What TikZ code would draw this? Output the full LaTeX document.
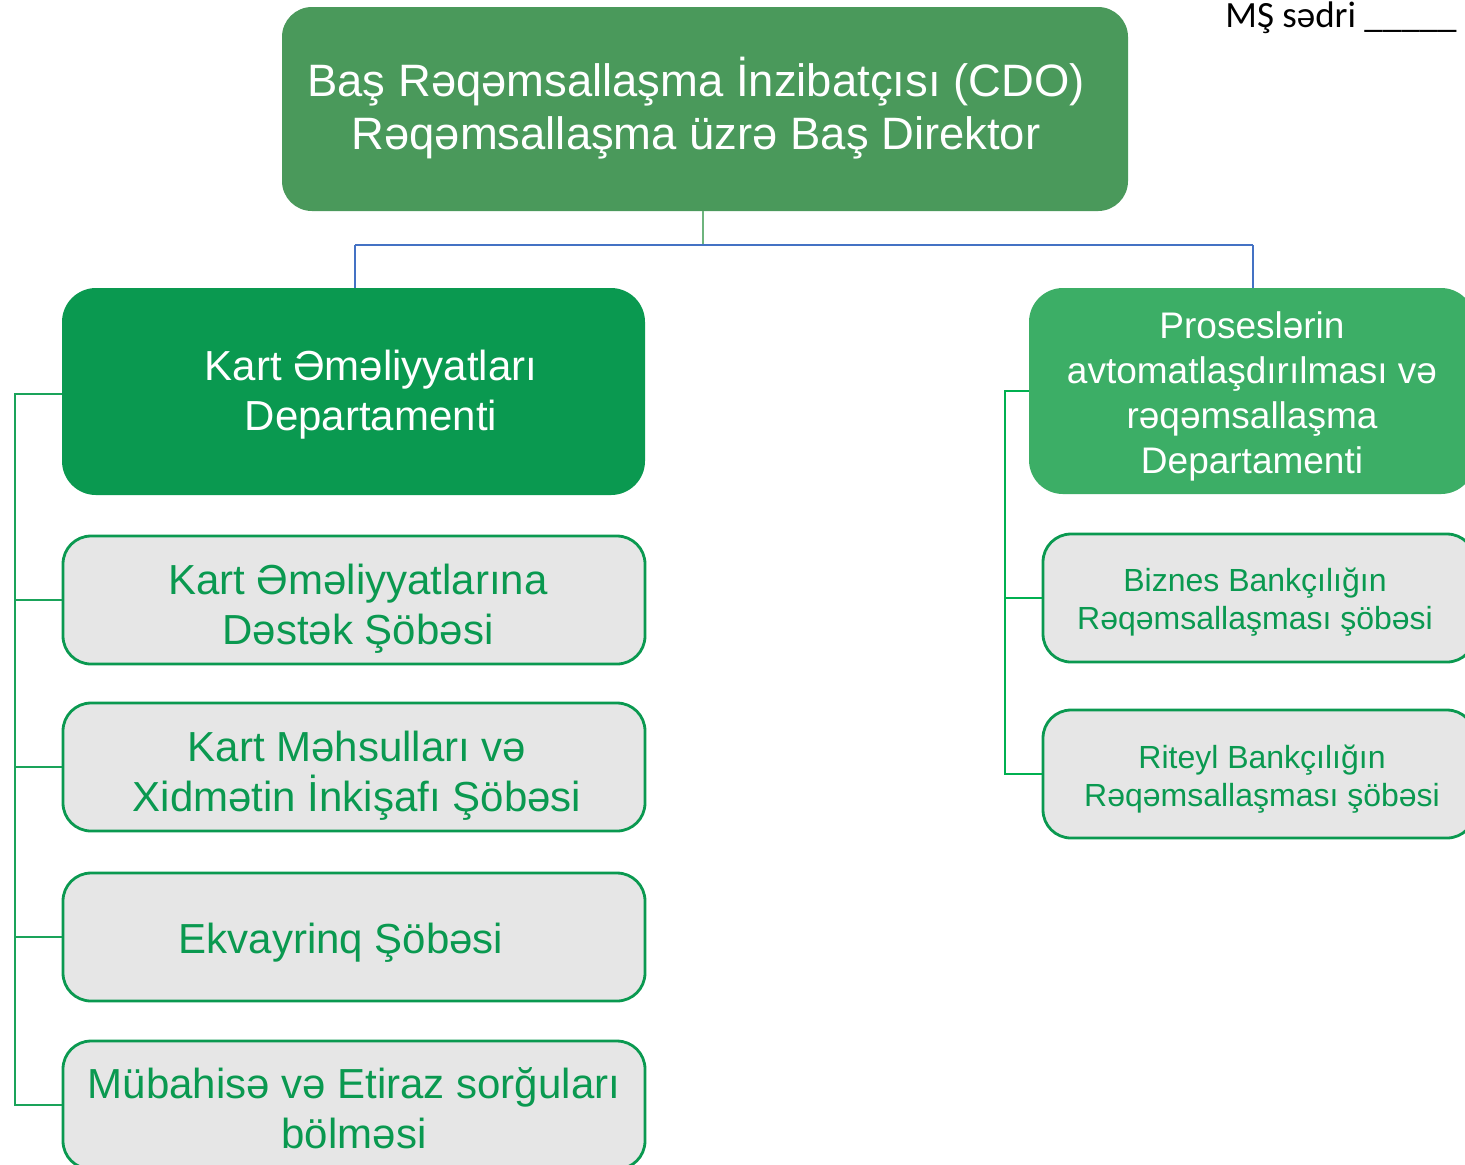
\documentclass[tikz,border=0pt]{standalone}
\usepackage{fontspec}
\setmainfont{Liberation Sans}
\newfontfamily\calibrifont{Carlito}
\definecolor{topgreen}{RGB}{74,153,91}
\definecolor{deptgreen}{RGB}{10,153,80}
\definecolor{rdeptgreen}{RGB}{60,174,102}
\definecolor{subfill}{RGB}{230,230,230}
\definecolor{subtext}{RGB}{10,153,80}
\definecolor{busblue}{RGB}{68,114,196}
\definecolor{lconncol}{RGB}{26,163,90}
\definecolor{rconncol}{RGB}{0,176,80}
\definecolor{stemgreen}{RGB}{110,180,125}
\tikzset{
  boxbase/.style={rectangle, inner sep=0pt},
  topbox/.style={boxbase, fill=topgreen, rounded corners=15pt, minimum width=423pt, minimum height=102pt},
  ldeptbox/.style={boxbase, fill=deptgreen, rounded corners=17pt, minimum width=291.5pt, minimum height=103.5pt},
  rdeptbox/.style={boxbase, fill=rdeptgreen, rounded corners=17pt, minimum width=223pt, minimum height=103pt},
  lsubbox/.style={boxbase, fill=subfill, draw=deptgreen, line width=1.4pt, rounded corners=14pt, minimum width=291pt, minimum height=64pt},
  rsubbox/.style={boxbase, fill=subfill, draw=deptgreen, line width=1.4pt, rounded corners=14pt, minimum width=216pt, minimum height=64pt},
  toptext/.style={align=center, text=white, font=\fontsize{22.7}{26.5}\selectfont},
  ldepttext/.style={align=center, text=white, font=\fontsize{21}{25}\selectfont},
  rdepttext/.style={align=center, text=white, font=\fontsize{18.5}{22.5}\selectfont},
  lsubtext/.style={align=center, text=subtext, font=\fontsize{21}{25}\selectfont},
  rsubtext/.style={align=center, text=subtext, font=\fontsize{16}{19}\selectfont},
  bus/.style={draw=busblue, line width=1.1pt},
  stem/.style={draw=stemgreen, line width=0.6pt},
  lconn/.style={draw=lconncol, line width=0.8pt},
  rconn/.style={draw=rconncol, line width=1pt},
}
\begin{document}
\begin{tikzpicture}[x=0.5pt, y=-0.5pt]
\useasboundingbox (0,0) rectangle (1465,1164);
\fill[white] (0,0) rectangle (1465,1164);

% boxes
\node[topbox] (top) at (705,109) {};
\node[toptext] (toplbl) at (696,108) {Baş Rəqəmsallaşma İnzibatçısı (CDO)\\Rəqəmsallaşma üzrə Baş Direktor};

\node[ldeptbox] (ldept) at (353.5,391.5) {};
\node[ldepttext] (ldeptlbl) at (371,395) {Kart Əməliyyatları\\Departamenti};

\node[rdeptbox] (rdept) at (1252,391) {};
\node[rdepttext] (rdeptlbl) at (1252,396) {Proseslərin\\avtomatlaşdırılması və\\rəqəmsallaşma\\Departamenti};

\node[lsubbox] (ls1) at (354,600) {};
\node[lsubtext] (ls1lbl) at (358,609) {Kart Əməliyyatlarına\\Dəstək Şöbəsi};
\node[lsubbox] (ls2) at (354,767) {};
\node[lsubtext] (ls2lbl) at (357,776) {Kart Məhsulları və\\Xidmətin İnkişafı Şöbəsi};
\node[lsubbox] (ls3) at (354,937) {};
\node[lsubtext] (ls3lbl) at (341,943) {Ekvayrinq Şöbəsi};
\node[lsubbox] (ls4) at (354,1105) {};
\node[lsubtext] (ls4lbl) at (354,1108) {Mübahisə və Etiraz sorğuları\\bölməsi};

\node[rsubbox] (rs1) at (1259,598) {};
\node[rsubtext] (rs1lbl) at (1255,602) {Biznes Bankçılığın\\Rəqəmsallaşması şöbəsi};
\node[rsubbox] (rs2) at (1259,774) {};
\node[rsubtext] (rs2lbl) at (1262,779) {Riteyl Bankçılığın\\Rəqəmsallaşması şöbəsi};

% top connectors
\coordinate (busmid) at (703,245);
\coordinate (busL) at (355,245);
\coordinate (busR) at (1253,245);
\draw[stem] (top.south -| busmid) -- (busmid);
\draw[bus] (busL) -- (busR);
\draw[bus] (busL) -- (ldept.north -| busL);
\draw[bus] (busR) -- (rdept.north -| busR);

% left connectors
\coordinate (lbus) at (15,394);
\draw[lconn] (ldept.west |- lbus) -- (lbus) |- (ls4.west);
\draw[lconn] (ls1.west) -- (ls1.west -| lbus);
\draw[lconn] (ls2.west) -- (ls2.west -| lbus);
\draw[lconn] (ls3.west) -- (ls3.west -| lbus);
\draw[lconn, line width=1.4pt] (ls4.west) -- (ls4.west -| lbus);

% right connectors
\coordinate (rbus) at (1005,391);
\draw[rconn] (rdept.west) -- (rbus) |- (rs2.west);
\draw[rconn] (rs1.west) -- (rs1.west -| rbus);

% signature
\node[anchor=base west, inner sep=0pt, font=\calibrifont\fontsize{18.5}{20}\selectfont] (sig) at (1225,27) {MŞ sədri \_\_\_\_\_};
\end{tikzpicture}
\end{document}
